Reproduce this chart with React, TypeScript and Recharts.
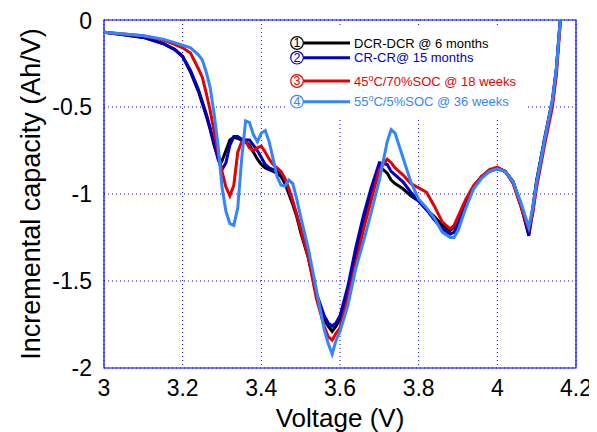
import { LineChart, Line, XAxis, YAxis, CartesianGrid, ReferenceArea, Legend } from "recharts";

// Voltage (V), shared sampling for all four curves
const voltage = [
  3.0, 3.05, 3.1, 3.15, 3.18, 3.2, 3.22, 3.24, 3.25, 3.26,
  3.27, 3.28, 3.29, 3.3, 3.31, 3.32, 3.33, 3.34, 3.35, 3.36,
  3.37, 3.38, 3.39, 3.4, 3.41, 3.42, 3.43, 3.44, 3.45, 3.46,
  3.47, 3.48, 3.49, 3.5, 3.52, 3.54, 3.56, 3.57, 3.58, 3.59,
  3.6, 3.62, 3.64, 3.66, 3.68, 3.7, 3.72, 3.73, 3.74, 3.76,
  3.78, 3.8, 3.82, 3.84, 3.86, 3.88, 3.89, 3.9, 3.92, 3.94,
  3.96, 3.98, 4.0, 4.02, 4.04, 4.06, 4.07, 4.08, 4.09, 4.1,
  4.12, 4.14, 4.15, 4.16,
];

// Incremental capacity (Ah/V)
const dcrDcr6Months = [
  -0.07, -0.085, -0.1, -0.135, -0.17, -0.21, -0.3, -0.41, -0.48, -0.55,
  -0.63, -0.72, -0.79, -0.81, -0.75, -0.69, -0.675, -0.68, -0.69, -0.7,
  -0.72, -0.76, -0.8, -0.83, -0.85, -0.86, -0.87, -0.88, -0.9, -0.94,
  -1.0, -1.06, -1.13, -1.22, -1.37, -1.58, -1.72, -1.76, -1.79, -1.76,
  -1.72, -1.57, -1.36, -1.17, -1.0, -0.84, -0.88, -0.92, -0.94, -0.97,
  -1.01, -1.04, -1.09, -1.13, -1.18, -1.21, -1.19, -1.15, -1.05, -0.96,
  -0.9, -0.87, -0.855, -0.87, -0.93, -1.07, -1.15, -1.23, -1.08, -0.92,
  -0.69, -0.47, -0.29, 0,
];

const crCr15Months = [
  -0.07, -0.085, -0.1, -0.135, -0.17, -0.21, -0.29, -0.4, -0.47, -0.54,
  -0.62, -0.71, -0.8, -0.86, -0.82, -0.72, -0.67, -0.67, -0.685, -0.69,
  -0.69, -0.72, -0.75, -0.79, -0.83, -0.85, -0.86, -0.87, -0.88, -0.92,
  -0.98, -1.05, -1.12, -1.2, -1.36, -1.57, -1.7, -1.74, -1.76, -1.74,
  -1.7, -1.53, -1.31, -1.12, -0.96, -0.82, -0.83, -0.87, -0.89, -0.93,
  -0.99, -1.04, -1.09, -1.15, -1.2, -1.23, -1.22, -1.17, -1.06, -0.96,
  -0.9, -0.865, -0.85, -0.87, -0.93, -1.06, -1.15, -1.24, -1.1, -0.93,
  -0.68, -0.46, -0.28, 0,
];

const temp45Soc70 = [
  -0.07, -0.08, -0.09, -0.115, -0.14, -0.16, -0.19, -0.28, -0.33, -0.42,
  -0.52, -0.64, -0.76, -0.87, -0.96, -1.01, -0.95, -0.76, -0.7, -0.7,
  -0.735, -0.75, -0.735, -0.725, -0.76, -0.8, -0.83, -0.85, -0.87, -0.91,
  -0.97, -1.04, -1.12, -1.2, -1.37, -1.6, -1.76, -1.82, -1.84, -1.8,
  -1.77, -1.6, -1.4, -1.2, -1.03, -0.86, -0.8, -0.82, -0.85, -0.89,
  -0.94, -0.965, -0.99, -1.07, -1.16, -1.2, -1.18, -1.13, -1.03, -0.95,
  -0.9, -0.86, -0.845, -0.87, -0.94, -1.07, -1.14, -1.2, -1.11, -0.96,
  -0.72, -0.5, -0.32, -0.02,
];

const temp55Soc5 = [
  -0.07, -0.08, -0.09, -0.11, -0.13, -0.145, -0.16, -0.2, -0.23, -0.3,
  -0.39, -0.54, -0.72, -0.96, -1.1, -1.17, -1.18, -1.08, -0.8, -0.58,
  -0.59, -0.66, -0.7, -0.65, -0.635, -0.7, -0.8, -0.9, -0.95, -0.955,
  -0.92, -0.94, -1.03, -1.13, -1.32, -1.55, -1.78, -1.86, -1.92, -1.84,
  -1.79, -1.64, -1.43, -1.27, -1.1, -0.92, -0.7, -0.63, -0.65, -0.79,
  -0.93, -1.03, -1.08, -1.14, -1.22, -1.25, -1.25, -1.21, -1.08, -0.97,
  -0.91, -0.87, -0.855, -0.87, -0.93, -1.05, -1.12, -1.19, -1.08, -0.93,
  -0.69, -0.46, -0.28, 0,
];

const xTicks = [3, 3.2, 3.4, 3.6, 3.8, 4, 4.2];
const yTicks = [-2, -1.5, -1, -0.5, 0];

const data = voltage.map((v, i) => ({
  v,
  dcr: dcrDcr6Months[i],
  cr: crCr15Months[i],
  t45: temp45Soc70[i],
  t55: temp55Soc5[i],
}));

const FONT = "'Liberation Sans', Arial, Helvetica, sans-serif";
const FRAME = "#0000ff";

const series = [
  { key: "dcr", mark: "1", color: "#000000", pre: "DCR-DCR @ 6 months", sup: "", post: "" },
  { key: "cr", mark: "2", color: "#0000c8", pre: "CR-CR@ 15 months", sup: "", post: "" },
  { key: "t45", mark: "3", color: "#e60000", pre: "45", sup: "o", post: "C/70%SOC @ 18 weeks" },
  { key: "t55", mark: "4", color: "#3385ff", pre: "55", sup: "o", post: "C/5%SOC @ 36 weeks" },
];

const rowY = [15, 29.7, 53, 73.7];

function LegendBox() {
  return (
    <svg width={239} height={90} style={{ display: "block", background: "#fff" }}>
      {series.map((s, i) => (
        <g key={s.key} fontFamily={FONT}>
          <circle cx={9} cy={rowY[i]} r={6.3} fill="#fff" stroke={s.color} strokeWidth={1.2} />
          <text x={9} y={rowY[i] + 4.4} fontSize={12.5} textAnchor="middle" fill={s.color}>
            {s.mark}
          </text>
          <line x1={15.3} x2={62} y1={rowY[i]} y2={rowY[i]} stroke={s.color} strokeWidth={3} />
          <text x={66} y={rowY[i] + 4.5} fontSize={13} fill={s.color}>
            <tspan>{s.pre}</tspan>
            {s.sup && (
              <>
                <tspan dy={-5} fontSize={9}>{s.sup}</tspan>
                <tspan dy={5}>{s.post}</tspan>
              </>
            )}
          </text>
        </g>
      ))}
    </svg>
  );
}

const noLabel = () => <g />;

export default function App() {
  return (
    <div style={{ width: 589, height: 424, fontFamily: FONT }}>
      <LineChart width={589} height={424} data={data} margin={{ top: 12, right: 21, bottom: 0, left: 0 }}>
        <CartesianGrid xAxisId="x" yAxisId="y" stroke={FRAME} strokeDasharray="1 3" strokeWidth={1} />
        <XAxis
          xAxisId="x"
          dataKey="v"
          type="number"
          domain={[3, 4.2]}
          ticks={xTicks}
          allowDataOverflow
          height={64}
          axisLine={false}
          tickLine={false}
          tickSize={0}
          tickMargin={12}
          tick={{ fill: "#000", fontSize: 23, fontFamily: FONT }}
          label={{ value: "Voltage (V)", position: "insideBottom", offset: 5, fill: "#000", fontSize: 26, fontFamily: FONT }}
        />
        <XAxis xAxisId="xt" type="number" orientation="top" mirror domain={[3, 4.2]} ticks={xTicks} height={0}
          axisLine={false} tickSize={5} tickLine={{ stroke: FRAME }} tick={noLabel} />
        <XAxis xAxisId="xb" type="number" orientation="bottom" mirror domain={[3, 4.2]} ticks={xTicks} height={0}
          axisLine={false} tickSize={5} tickLine={{ stroke: FRAME }} tick={noLabel} />
        <YAxis
          yAxisId="y"
          type="number"
          domain={[-2, 0]}
          ticks={yTicks}
          allowDataOverflow
          width={96}
          axisLine={false}
          tickLine={false}
          tickSize={0}
          tickMargin={12}
          tick={{ fill: "#000", fontSize: 23, fontFamily: FONT }}
          label={{
            value: "Incremental capacity (Ah/V)",
            angle: -90,
            position: "insideLeft",
            offset: 22,
            fill: "#000",
            fontSize: 27,
            fontFamily: FONT,
            style: { textAnchor: "middle" },
          }}
        />
        <YAxis yAxisId="yr" type="number" orientation="right" mirror domain={[-2, 0]} ticks={yTicks} width={0}
          axisLine={false} tickSize={5} tickLine={{ stroke: FRAME }} tick={noLabel} />
        <YAxis yAxisId="yl" type="number" orientation="left" mirror domain={[-2, 0]} ticks={yTicks} width={0}
          axisLine={false} tickSize={5} tickLine={{ stroke: FRAME }} tick={noLabel} />
        <ReferenceArea xAxisId="x" yAxisId="y" x1={3} x2={4.2} y1={-2} y2={0} fill="none" stroke={FRAME} strokeWidth={1.2} />
        {series.map((s) => (
          <Line
            key={s.key}
            xAxisId="x"
            yAxisId="y"
            dataKey={s.key}
            type="linear"
            stroke={s.color}
            strokeWidth={3}
            dot={false}
            isAnimationActive={false}
          />
        ))}
        <Legend
          layout="vertical"
          align="center"
          verticalAlign="middle"
          wrapperStyle={{ left: 280, top: 20, width: 239, height: 90 }}
          content={() => <LegendBox />}
        />
      </LineChart>
    </div>
  );
}
